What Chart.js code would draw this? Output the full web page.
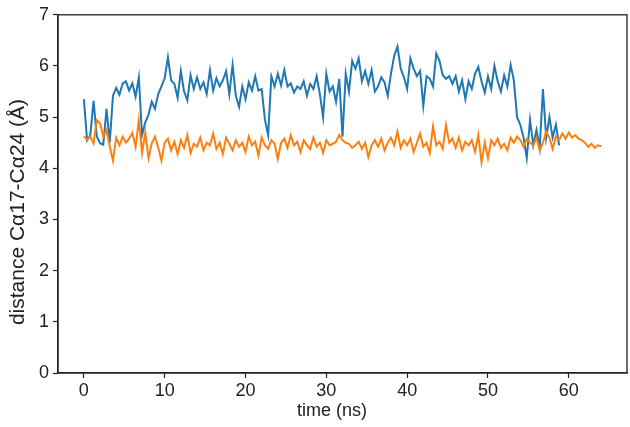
<!DOCTYPE html>
<html>
<head>
<meta charset="utf-8">
<script src="https://cdn.jsdelivr.net/npm/chart.js@4"></script>
<style>
  body { margin: 0; background: #fff; }
  canvas { display: block; }
</style>
</head>
<body>
<canvas id="distChart" width="630" height="427"></canvas>
<script>
// sampling interval of both traces (ns)
const stepNs = 0.4;
const xTicks = [0, 10, 20, 30, 40, 50, 60];
const yTicks = [0, 1, 2, 3, 4, 5, 6, 7];
const xTitle = 'time (ns)';
const yTitle = 'distance Cα17-Cα24 (Å)';

// distance Ca17-Ca24 (A), blue run, t = 0 .. 58.8 ns
const blueDist = [
  5.35, 4.55, 4.65, 5.32, 4.62, 4.49, 4.46, 5.16, 4.50, 5.42,
  5.57, 5.44, 5.66, 5.70, 5.52, 5.66, 5.40, 5.78, 4.65, 4.90,
  5.05, 5.30, 5.16, 5.45, 5.60, 5.76, 6.17, 5.72, 5.65, 5.38,
  5.90, 5.50, 5.33, 5.82, 5.55, 5.78, 5.55, 5.68, 5.45, 5.92,
  5.52, 5.76, 5.60, 5.72, 5.90, 5.45, 6.02, 5.42, 5.20, 5.60,
  5.35, 5.68, 5.52, 5.80, 5.52, 5.55, 4.95, 4.65, 5.80, 5.60,
  5.85, 5.62, 5.92, 5.60, 5.66, 5.48, 5.60, 5.55, 5.70, 5.42,
  5.65, 5.55, 5.80, 5.45, 5.00, 5.85, 5.50, 5.60, 5.30, 5.75,
  4.62, 5.85, 5.50, 6.10, 5.95, 6.15, 5.70, 5.90, 5.65, 5.92,
  5.50, 5.60, 5.78, 5.68, 5.42, 5.85, 6.20, 6.38, 5.95, 5.78,
  5.55, 6.15, 5.95, 5.80, 5.90, 5.22, 5.80, 5.75, 5.60, 6.24,
  6.10, 5.82, 5.75, 5.80, 5.65, 5.80, 5.50, 5.72, 5.35, 5.70,
  5.55, 5.85, 5.98, 5.70, 5.48, 5.80, 5.55, 6.00, 5.70, 5.50,
  5.82, 5.60, 6.02, 5.72, 5.00, 4.85, 4.60, 4.20, 4.95, 4.45,
  4.75, 4.40, 5.55, 4.60, 5.00, 4.60, 4.85, 4.45
];

// orange run, t = 0 .. 64 ns
const orangeDist = [
  4.63, 4.56, 4.62, 4.49, 4.94, 4.88, 4.62, 4.75, 4.43, 4.15,
  4.60, 4.45, 4.62, 4.50, 4.58, 4.69, 4.42, 4.94, 4.30, 4.70,
  4.20, 4.49, 4.62, 4.40, 4.15, 4.50, 4.58, 4.35, 4.52, 4.28,
  4.55, 4.40, 4.65, 4.30, 4.48, 4.42, 4.60, 4.35, 4.50, 4.45,
  4.68, 4.38, 4.50, 4.28, 4.60, 4.48, 4.35, 4.55, 4.42, 4.50,
  4.32, 4.62, 4.45, 4.52, 4.25, 4.60, 4.45, 4.38, 4.55, 4.48,
  4.18, 4.50, 4.58, 4.40, 4.65, 4.45, 4.52, 4.32, 4.55, 4.45,
  4.38, 4.60, 4.42, 4.50, 4.30, 4.55, 4.45, 4.48, 4.52, 4.65,
  4.55, 4.50, 4.48, 4.40, 4.45, 4.52, 4.38, 4.50, 4.22, 4.45,
  4.55, 4.42, 4.58, 4.35, 4.50, 4.60, 4.45, 4.72, 4.40, 4.55,
  4.45, 4.58, 4.32, 4.50, 4.68, 4.42, 4.50, 4.30, 4.82, 4.45,
  4.52, 4.38, 4.85, 4.50, 4.58, 4.40, 4.60, 4.35, 4.52, 4.45,
  4.55, 4.32, 4.65, 4.12, 4.50, 4.20, 4.55, 4.45, 4.58, 4.40,
  4.48, 4.35, 4.60, 4.50, 4.62, 4.55, 4.42, 4.58, 4.50, 4.45,
  4.60, 4.35, 4.50, 4.72, 4.60, 4.38, 4.62, 4.55, 4.68, 4.58,
  4.70, 4.60, 4.65, 4.58, 4.55, 4.50, 4.42, 4.48, 4.40, 4.45,
  4.43
];

const toPoints = arr => arr.map((v, i) => ({ x: +(i * stepNs).toFixed(1), y: v }));

const axisColor = '#222';
const fontFamily = '"Liberation Sans", Arial, sans-serif';

// box around the plot (matplotlib spines) and the two axis labels,
// which sit a bit off the axis centre in the original figure
const frame = {
  id: 'frame',
  afterDraw(chart) {
    const a = chart.chartArea;
    const ctx = chart.ctx;
    ctx.save();
    ctx.strokeStyle = axisColor;
    ctx.lineWidth = 1.3;
    ctx.strokeRect(a.left, a.top, a.right - a.left, a.bottom - a.top);

    ctx.fillStyle = '#222';
    ctx.textAlign = 'center';
    ctx.textBaseline = 'middle';
    ctx.font = '18px ' + fontFamily;
    ctx.fillText(xTitle, 332, 411);

    ctx.translate(18, 212);
    ctx.rotate(-Math.PI / 2);
    ctx.font = '21px ' + fontFamily;
    ctx.fillText(yTitle, 0, 0);
    ctx.restore();
  }
};

new Chart(document.getElementById('distChart'), {
  type: 'line',
  data: {
    datasets: [{
      label: 'run 1',
      data: toPoints(blueDist),
      borderColor: '#1f77b4',
      borderWidth: 2,
      pointRadius: 0,
      order: 2
    }, {
      label: 'run 2',
      data: toPoints(orangeDist),
      borderColor: '#ff7f0e',
      borderWidth: 2,
      pointRadius: 0,
      order: 1
    }]
  },
  options: {
    responsive: false,
    animation: false,
    layout: { padding: { left: 0, right: 3, top: 5, bottom: 0 } },
    plugins: { legend: { display: false }, tooltip: { enabled: false } },
    scales: {
      x: {
        type: 'linear',
        min: -3.2,
        max: 67.2,
        afterBuildTicks: s => { s.ticks = xTicks.map(v => ({ value: v })); },
        afterFit: s => { s.height = 54; },
        grid: { drawOnChartArea: false, tickLength: 5, tickColor: axisColor, tickWidth: 1.2 },
        border: { color: axisColor, width: 1.3 },
        ticks: { color: '#222', font: { family: fontFamily, size: 18 }, padding: 2, maxRotation: 0, autoSkip: false }
      },
      y: {
        min: 0,
        max: 7,
        afterBuildTicks: s => { s.ticks = yTicks.map(v => ({ value: v })); },
        afterFit: s => { s.width = 58; },
        grid: { drawOnChartArea: false, tickLength: 5, tickColor: axisColor, tickWidth: 1.2 },
        border: { color: axisColor, width: 1.3 },
        ticks: { color: '#222', font: { family: fontFamily, size: 18 }, padding: 4 }
      }
    }
  },
  plugins: [frame]
});
</script>
</body>
</html>
